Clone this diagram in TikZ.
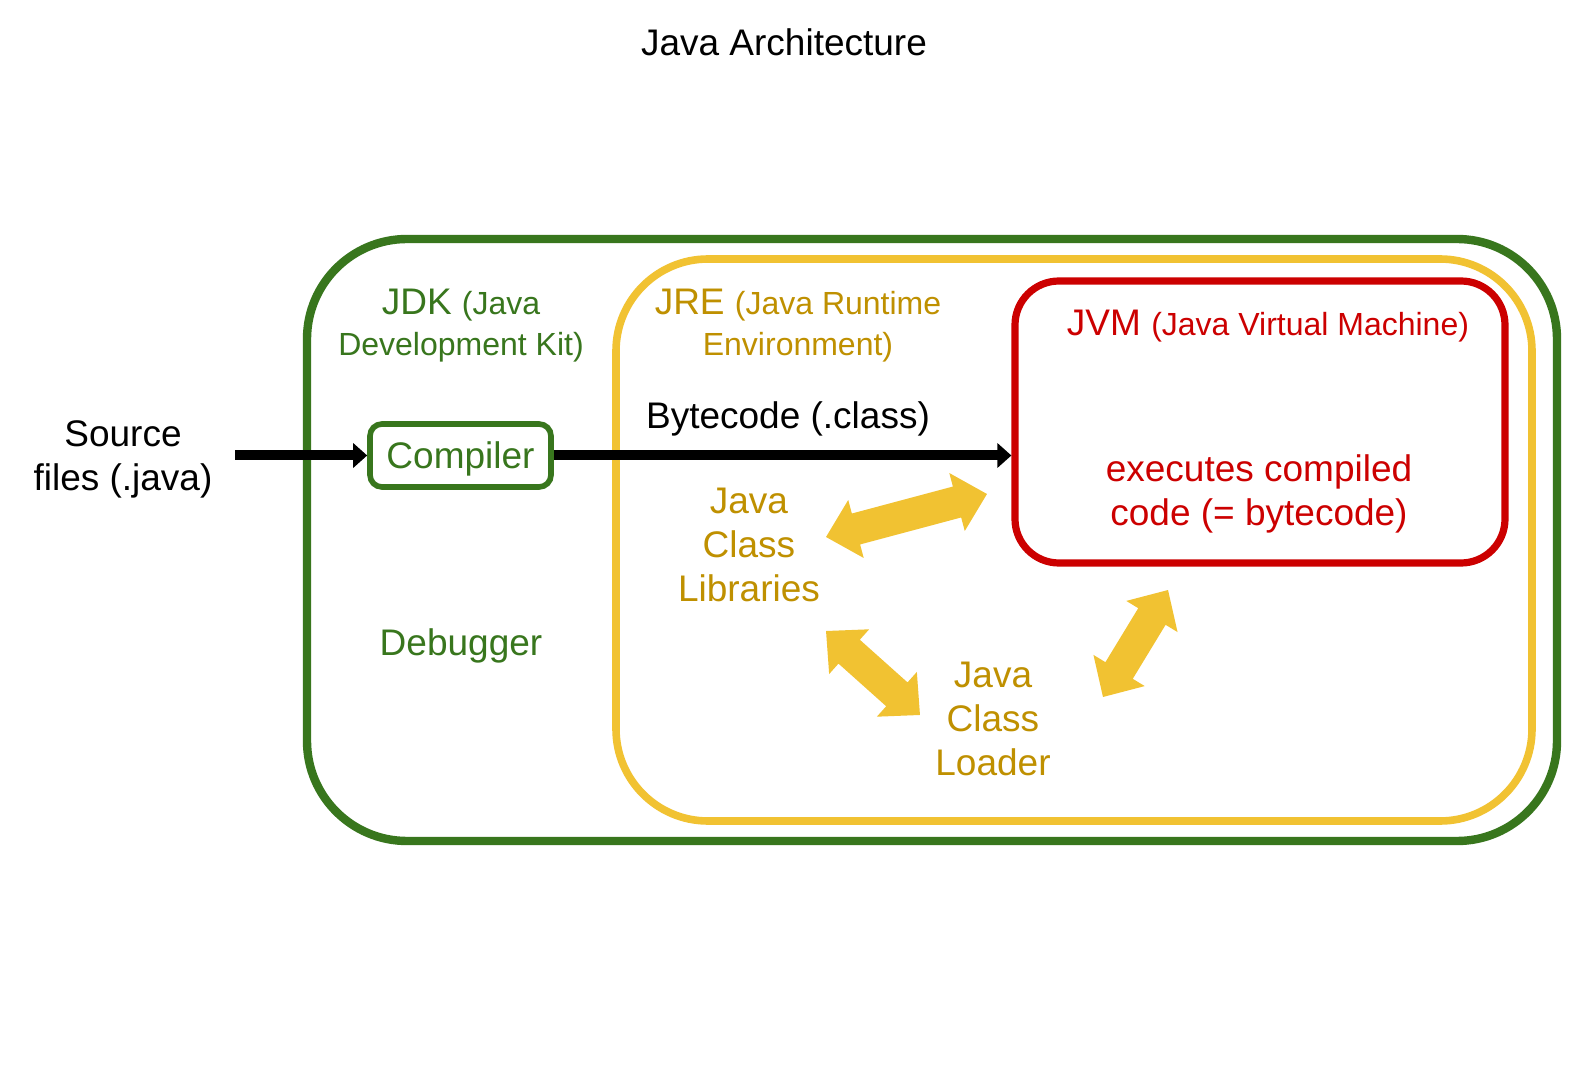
\documentclass[tikz,border=0pt]{standalone}
\usepackage{fontspec}
\setmainfont{Liberation Sans}
\usetikzlibrary{arrows.meta}
\definecolor{jdkgreen}{HTML}{38761D}
\definecolor{jreyellow}{HTML}{F1C232}
\definecolor{jregold}{HTML}{BF9000}
\definecolor{jvmred}{HTML}{CC0000}
\newcommand{\smalltxt}{\fontsize{16}{20.5}\selectfont}
\tikzset{
  bigtxt/.style={font=\fontsize{18.5}{22}\selectfont, align=center, inner sep=0pt},
  labeltxt/.style={font=\fontsize{18.5}{20.5}\selectfont, align=center, inner sep=0pt},
  boxframe/.style={draw, inner sep=0pt},
  flowarrow/.style={line width=5pt, -{Triangle[length=7pt,width=12pt]}},
  dblarrow/.pic={
    \fill[jreyellow] (-#1,0) -- (-#1+31,-30) -- (-#1+31,-16) -- (#1-31,-16) -- (#1-31,-30)
      -- (#1,0) -- (#1-31,30) -- (#1-31,16) -- (-#1+31,16) -- (-#1+31,30) -- cycle;
  }
}
\begin{document}
\begin{tikzpicture}[x=0.5pt,y=-0.5pt]
\useasboundingbox[fill=white] (0,0) rectangle (1581,1080);

% title
\node[bigtxt] (title) at (784,42) {Java Architecture};

% boxes
\node[boxframe, draw=jdkgreen, line width=4.2pt, rounded corners=50pt,
      minimum width=625pt, minimum height=301pt] (jdk) at (932,540) {};
\node[boxframe, draw=jreyellow, line width=3.8pt, rounded corners=46pt,
      minimum width=458pt, minimum height=281pt] (jre) at (1074,540) {};
\node[boxframe, draw=jvmred, line width=3.6pt, rounded corners=22pt,
      minimum width=245pt, minimum height=141pt] (jvm) at (1260,422) {};
\node[boxframe, draw=jdkgreen, line width=2.8pt, rounded corners=6pt,
      minimum width=90.5pt, minimum height=31.5pt, font=\fontsize{18.5}{22}\selectfont,
      text height=16.5pt, text depth=3.9pt,
      text=jdkgreen] (compiler) at (460.5,455.5) {Compiler};

% labels
\node[bigtxt] (source) at (123,459) {Source\\files (.java)};
\node[labeltxt, text=jdkgreen] (jdklabel) at (461,326)
  {JDK {\smalltxt (Java}\\{\smalltxt Development Kit)}};
\node[labeltxt, text=jregold] (jrelabel) at (798,326)
  {JRE {\smalltxt (Java Runtime}\\{\smalltxt Environment)}};
\node[labeltxt, text=jvmred] (jvmlabel) at (1268,326)
  {JVM {\smalltxt (Java Virtual Machine)}};
\node[bigtxt, text=jvmred] (executes) at (1259,494) {executes compiled\\code (= bytecode)};
\node[bigtxt] (bytecode) at (788,419) {Bytecode (.class)};
\node[bigtxt, text=jregold] (libraries) at (749,545) {Java\\Class\\Libraries};
\node[bigtxt, text=jdkgreen] (debugger) at (461,646) {Debugger};
\node[bigtxt, text=jregold] (loader) at (993,719) {Java\\Class\\Loader};

% flow arrows
\coordinate (srcstart) at (235,455.5);
\draw[flowarrow] (srcstart) -- (compiler.west);
\draw[flowarrow] (compiler.east) -- (compiler.east -| jvm.west);

% block double arrows
\pic[rotate=14.95] at (906.5,515.5) {dblarrow=83.3};
\pic[rotate=-41.8] at (873,673) {dblarrow=63};
\pic[rotate=58.7] at (1135.5,643.5) {dblarrow=62.6};
\end{tikzpicture}
\end{document}
